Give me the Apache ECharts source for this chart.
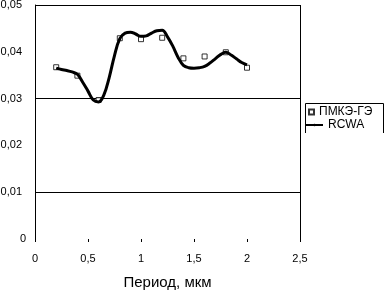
<!DOCTYPE html>
<html>
<head>
<meta charset="utf-8">
<script src="https://cdn.jsdelivr.net/npm/echarts@6/dist/echarts.min.js"></script>
<style>
  html, body { margin: 0; padding: 0; background: #fff; }
  #chart { width: 384px; height: 291px; }
</style>
</head>
<body>
<div id="chart"></div>
<script>
// ПМКЭ-ГЭ points
var pmkeX = [0.2, 0.4, 0.6, 0.8, 1.0, 1.2, 1.4, 1.6, 1.8, 2.0]
var pmkeY = [0.0367, 0.0349, 0.0297, 0.0429, 0.0427, 0.0430, 0.0386, 0.0390, 0.0399, 0.0366]

// RCWA curve
var rcwaX = [0.2, 0.25, 0.3, 0.35, 0.4, 0.45, 0.5, 0.55, 0.6, 0.65, 0.7, 0.75, 0.8, 0.85, 0.9, 0.95, 1.0,
  1.05, 1.1, 1.15, 1.2, 1.25, 1.3, 1.35, 1.4, 1.45, 1.5, 1.55, 1.6, 1.65, 1.7, 1.75, 1.8, 1.85, 1.9, 1.95, 2.0]
var rcwaY = [0.0365, 0.0362, 0.0360, 0.0357, 0.0352, 0.0335, 0.0316, 0.0297, 0.0293, 0.0308, 0.0345, 0.0392, 0.0428,
  0.0440, 0.0442, 0.0438, 0.0433, 0.0434, 0.0440, 0.0445, 0.0446, 0.0432, 0.0412, 0.0388, 0.0371, 0.0366, 0.0365,
  0.0366, 0.0369, 0.0376, 0.0385, 0.0394, 0.0399, 0.0393, 0.0385, 0.0377, 0.0372]

var font = 'Liberation Sans, Arial, sans-serif'

function comma (v) {
  return String(+v.toFixed(3)).replace('.', ',')
}

var myChart = echarts.init(document.getElementById('chart'))
myChart.setOption({
  animation: false,
  textStyle: { fontFamily: font, color: '#000' },
  grid: { left: 35, right: 84, top: 5, bottom: 52, containLabel: false, outerBoundsMode: 'none' },
  legend: [
    {
      data: [{ name: 'ПМКЭ-ГЭ' }],
      left: 308, top: 106,
      padding: 0,
      itemWidth: 5, itemHeight: 5,
      textStyle: { fontSize: 12, fontFamily: font, color: '#000' }
    },
    {
      data: [{ name: 'RCWA' }],
      left: 305, top: 119,
      padding: 0,
      itemWidth: 17, itemHeight: 3,
      textStyle: { fontSize: 12, fontFamily: font, color: '#000' }
    }
  ],
  xAxis: {
    type: 'value',
    min: 0,
    max: 2.5,
    interval: 0.5,
    name: 'Период, мкм',
    nameLocation: 'middle',
    nameGap: 36,
    nameTextStyle: { fontSize: 15, fontFamily: font, color: '#000' },
    axisLine: { show: false },
    axisTick: { show: true, inside: false, length: 3, lineStyle: { color: '#000' } },
    axisLabel: { fontSize: 11, color: '#000', margin: 14, formatter: comma },
    splitLine: {
      show: true,
      lineStyle: { color: ['rgba(0,0,0,0)', 'rgba(0,0,0,0)', 'rgba(0,0,0,0)', 'rgba(0,0,0,0)', 'rgba(0,0,0,0)', '#000'], width: 1 }
    }
  },
  yAxis: {
    type: 'value',
    min: 0,
    max: 0.05,
    interval: 0.01,
    axisLine: { show: true, lineStyle: { color: '#000' } },
    axisTick: { show: false },
    axisLabel: {
      fontSize: 11,
      color: '#000',
      margin: 9,
      formatter: function (v) {
        return v === 0 ? '0' : comma(v) + '{s| }'
      },
      rich: { s: { width: 4 } }
    },
    splitLine: {
      show: true,
      lineStyle: { color: ['rgba(0,0,0,0)', '#000'], width: 1 }
    }
  },
  graphic: [
    { type: 'line', shape: { x1: 305.5, y1: 103.5, x2: 383.5, y2: 103.5 }, style: { stroke: '#000', lineWidth: 1 } },
    { type: 'line', shape: { x1: 305.5, y1: 103.5, x2: 305.5, y2: 133 }, style: { stroke: '#000', lineWidth: 1 } },
    { type: 'line', shape: { x1: 383.5, y1: 103.5, x2: 383.5, y2: 133 }, style: { stroke: '#000', lineWidth: 1 } }
  ],
  series: [
    {
      name: 'RCWA',
      type: 'line',
      smooth: 0.4,
      symbol: 'none',
      data: rcwaX.map(function (x, i) { return [x, rcwaY[i]] }),
      lineStyle: { color: '#000', width: 3 },
      itemStyle: { color: '#000' },
      z: 3
    },
    {
      name: 'ПМКЭ-ГЭ',
      type: 'scatter',
      symbol: 'rect',
      symbolSize: 5,
      data: pmkeX.map(function (x, i) { return [x, pmkeY[i]] }),
      itemStyle: { color: '#fff', borderColor: '#000', borderWidth: 1 },
      z: 2
    }
  ]
})
</script>
</body>
</html>
